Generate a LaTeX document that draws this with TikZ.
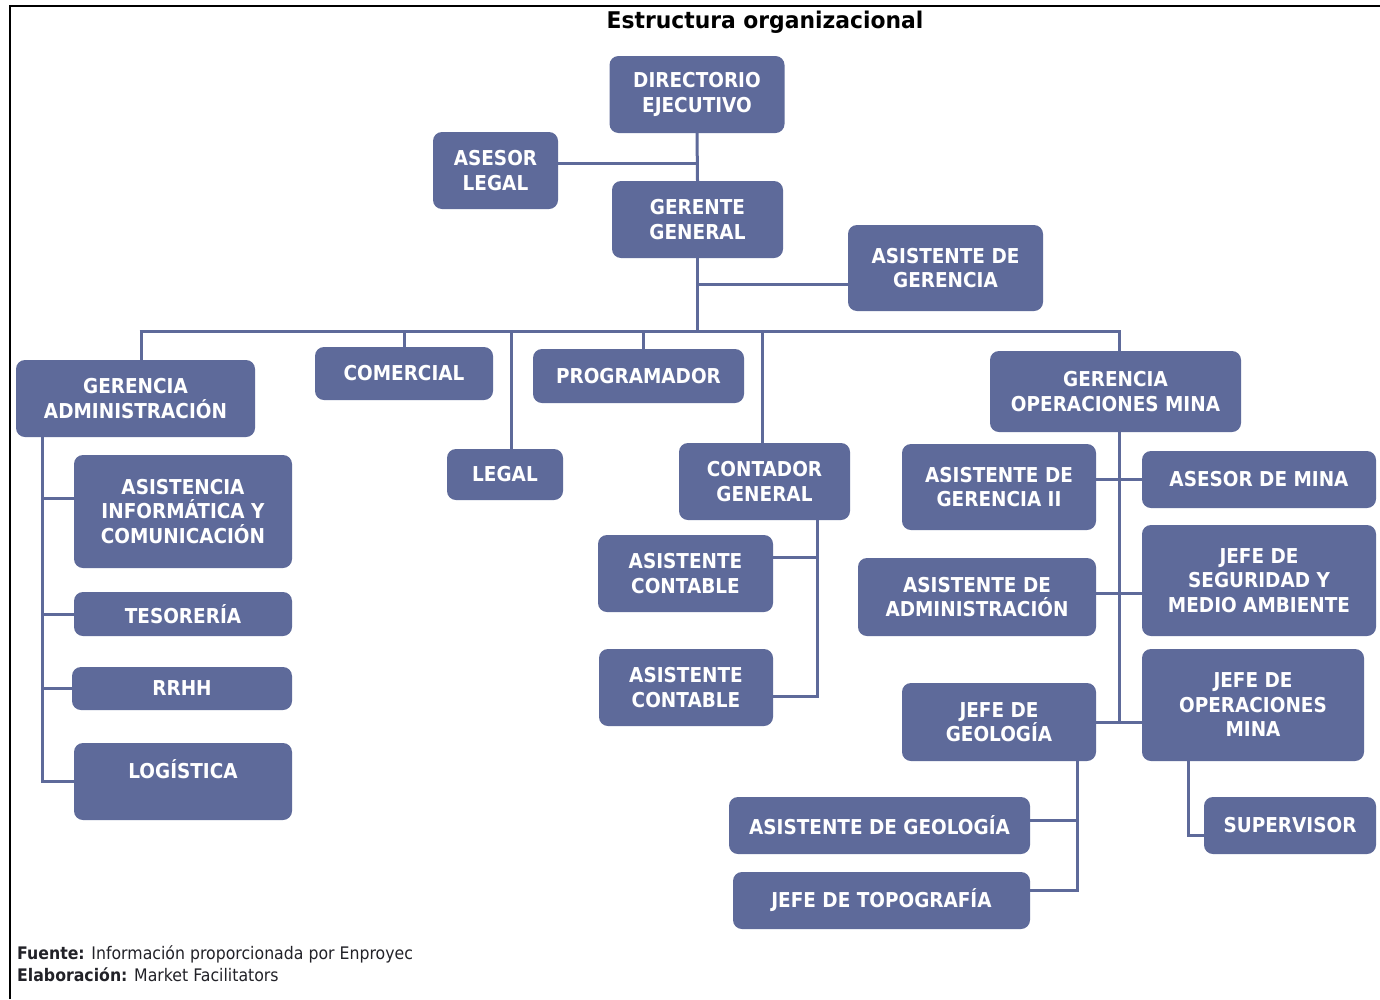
\documentclass[tikz,border=0pt]{standalone}
\usepackage{fontspec}
\setmainfont{DejaVu Sans}
\newfontfamily\boxfont{DejaVu Sans}[FakeStretch=0.9]
\newfontfamily\titlefont{DejaVu Sans}[FakeStretch=0.95]
\newfontfamily\footfont{DejaVu Sans}[FakeStretch=0.91]
\definecolor{boxblue}{RGB}{94,106,154}
\definecolor{foottext}{RGB}{34,34,40}
\begin{document}
\begin{tikzpicture}[x=1pt,y=-1pt,
  box/.style={fill=boxblue, rounded corners=9pt, text=white, align=center, inner sep=0pt,
    font=\boxfont\bfseries\fontsize{20.5}{24.5}\selectfont},
  link/.style={draw=boxblue, line width=3pt},
  foot/.style={anchor=base west, text=foottext, inner sep=0pt, font=\footfont\fontsize{17.3}{20}\selectfont}]
\useasboundingbox (0,0) rectangle (1380,999);
\fill[white] (0,0) rectangle (1380,999);
\draw[line width=2pt] (10,999) -- (10,6) -- (1380,6);

\node[anchor=base, inner sep=0pt, font=\titlefont\bfseries\fontsize{23}{26}\selectfont] (title) at (765,28) {Estructura organizacional};

% nodes
\node[box, minimum width=175pt, minimum height=77pt] (dir) at (697,94.5) {DIRECTORIO\\EJECUTIVO};
\node[box, minimum width=125pt, minimum height=77pt] (al) at (495.5,170.5) {ASESOR\\LEGAL};
\node[box, minimum width=171pt, minimum height=77pt] (gg) at (697.5,219.5) {GERENTE\\GENERAL};
\node[box, minimum width=195pt, minimum height=86pt] (ag) at (945.5,268) {ASISTENTE DE\\GERENCIA};
\node[box, minimum width=239pt, minimum height=77pt] (ga) at (135.5,398.5) {GERENCIA\\ADMINISTRACIÓN};
\node[box, minimum width=178pt, minimum height=53pt] (com) at (404,373.5) {COMERCIAL};
\node[box, minimum width=211pt, minimum height=54pt] (prog) at (638.5,376) {PROGRAMADOR};
\node[box, minimum width=251pt, minimum height=81pt] (gom) at (1115.5,391.5) {GERENCIA\\OPERACIONES MINA};
\node[box, minimum width=116pt, minimum height=51pt] (leg) at (505,474.5) {LEGAL};
\node[box, minimum width=171pt, minimum height=77pt] (cont) at (764.5,481.5) {CONTADOR\\GENERAL};
\node[box, minimum width=218pt, minimum height=113pt] (aic) at (183,511.5) {ASISTENCIA\\INFORMÁTICA Y\\COMUNICACIÓN};
\node[box, minimum width=218pt, minimum height=44pt] (tes) at (183,614) {TESORERÍA};
\node[box, minimum width=220pt, minimum height=43pt] (rrhh) at (182,688.5) {RRHH};
\node[box, minimum width=218pt, minimum height=77pt, text height=15pt, text depth=22pt] (log) at (183,781.5) {LOGÍSTICA};
\node[box, minimum width=175pt, minimum height=77pt] (ac1) at (685.5,573.5) {ASISTENTE\\CONTABLE};
\node[box, minimum width=174pt, minimum height=77pt] (ac2) at (686,687.5) {ASISTENTE\\CONTABLE};
\node[box, minimum width=194pt, minimum height=86pt] (agii) at (999,487) {ASISTENTE DE\\GERENCIA II};
\node[box, minimum width=234pt, minimum height=57pt] (am) at (1259,479.5) {ASESOR DE MINA};
\node[box, minimum width=238pt, minimum height=78pt] (aa) at (977,597) {ASISTENTE DE\\ADMINISTRACIÓN};
\node[box, minimum width=234pt, minimum height=111pt] (js) at (1259,580.5) {JEFE DE\\SEGURIDAD Y\\MEDIO AMBIENTE};
\node[box, minimum width=194pt, minimum height=78pt] (jg) at (999,722) {JEFE DE\\GEOLOGÍA};
\node[box, minimum width=222pt, minimum height=112pt] (jo) at (1253,705) {JEFE DE\\OPERACIONES\\MINA};
\node[box, minimum width=301pt, minimum height=57pt] (asg) at (879.5,825.5) {ASISTENTE DE GEOLOGÍA};
\node[box, minimum width=297pt, minimum height=57pt] (jt) at (881.5,900.5) {JEFE DE TOPOGRAFÍA};
\node[box, minimum width=172pt, minimum height=57pt] (sup) at (1290,825.5) {SUPERVISOR};

% footer
\node[foot] (fuente) at (17,959) {\textbf{Fuente:} Información proporcionada por Enproyec};
\node[foot] (elab) at (17,981) {\textbf{Elaboración:} Market Facilitators};

% connectors
\draw[link] (dir.south) -- (gg.north);
\draw[link] ([yshift=7pt]al.east) -- ([yshift=7pt]al.east -| dir.south);
\coordinate (busL) at (141,331);
\coordinate (busR) at (1119,331);
\draw[link] (gg.south) -- (gg.south |- busL);
\draw[link] ([xshift=-1.5pt]busL) -- ([xshift=1.5pt]busR);
\draw[link] ([yshift=-16pt]ag.west -| gg.south) -- ([yshift=-16pt]ag.west);
\draw[link] (busL) -- (busL |- ga.north);
\draw[link] (com.north |- busL) -- (com.north);
\coordinate (dLeg) at (511,331);
\draw[link] (dLeg) -- (dLeg |- leg.north);
\coordinate (dProg) at (643,331);
\draw[link] (dProg) -- (dProg |- prog.north);
\coordinate (dCont) at (762,331);
\draw[link] (dCont) -- (dCont |- cont.north);
\draw[link] (busR) -- (busR |- gom.north);

% gerencia administracion
\coordinate (gaV) at (42,437);
\draw[link] (gaV) -- (gaV |- log.west) -- (log.west);
\draw[link] ([yshift=13pt]aic.west -| gaV) -- ([yshift=13pt]aic.west);
\draw[link] (tes.west -| gaV) -- (tes.west);
\draw[link] (rrhh.west -| gaV) -- (rrhh.west);

% contador
\coordinate (cV) at (817,520);
\draw[link] (cV) -- ([yshift=-9pt]ac2.east -| cV) -- ([yshift=-9pt]ac2.east);
\draw[link] ([yshift=16pt]ac1.east) -- ([yshift=16pt]ac1.east -| cV);

% gerencia operaciones
\draw[link] (busR |- gom.south) -- (busR |- jg.east);
\draw[link] (agii.east |- am.west) -- (am.west);
\draw[link] ([yshift=4pt]aa.east) -- ([yshift=4pt]aa.east -| js.west);
\draw[link] (jg.east) -- (jg.east -| jo.west);

% geologia
\coordinate (geoV) at (1077,761);
\draw[link] (geoV) -- ([yshift=10pt]jt.east -| geoV) -- ([yshift=10pt]jt.east);
\draw[link] ([yshift=5pt]asg.east) -- ([yshift=5pt]asg.east -| geoV);

% operaciones
\coordinate (opV) at (1188,761);
\draw[link] (opV) -- ([yshift=-10pt]sup.west -| opV) -- ([yshift=-10pt]sup.west);
\end{tikzpicture}
\end{document}
